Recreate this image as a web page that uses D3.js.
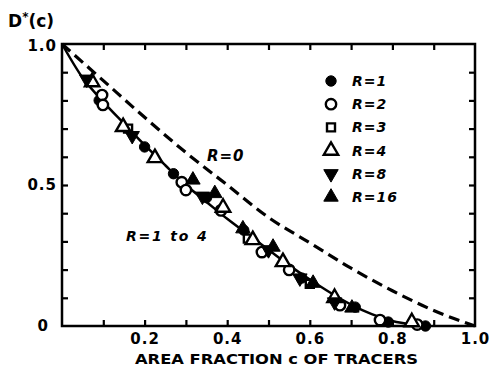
<!DOCTYPE html>
<html>
<head>
<meta charset="utf-8">
<script src="https://cdn.jsdelivr.net/npm/d3@7"></script>
<style>
body { margin: 0; background: #fff; }
text { font-family: "DejaVu Sans", sans-serif; font-weight: bold; fill: #000; }
</style>
</head>
<body>
<div id="chart"></div>
<script>
// curves
const fitC   = [0, 0.05, 0.1, 0.15, 0.2, 0.25, 0.3, 0.35, 0.4, 0.45, 0.5, 0.55, 0.6, 0.65, 0.7, 0.75, 0.8, 0.85, 0.88]
const fitD   = [1, 0.88, 0.795, 0.718, 0.642, 0.57, 0.5, 0.44, 0.38, 0.325, 0.27, 0.215, 0.165, 0.118, 0.076, 0.042, 0.018, 0.005, 0]
const r0C    = [0, 0.1, 0.2, 0.3, 0.4, 0.5, 0.6, 0.7, 0.8, 0.9, 1.0]
const r0D    = [1, 0.87, 0.74, 0.615, 0.5, 0.385, 0.295, 0.205, 0.125, 0.055, 0]

// measured points per series
const r1C  = [0.09, 0.2, 0.27, 0.35, 0.44, 0.58, 0.71, 0.79, 0.88]
const r1D  = [0.80, 0.635, 0.54, 0.455, 0.34, 0.17, 0.067, 0.014, 0.0]
const r2C  = [0.097, 0.099, 0.29, 0.30, 0.385, 0.484, 0.55, 0.673, 0.77, 0.86]
const r2D  = [0.819, 0.784, 0.51, 0.482, 0.41, 0.262, 0.199, 0.074, 0.021, 0.005]
const r3C  = [0.16, 0.45, 0.6]
const r3D  = [0.70, 0.31, 0.15]
const r4C  = [0.073, 0.148, 0.225, 0.39, 0.462, 0.535, 0.66, 0.847]
const r4D  = [0.865, 0.706, 0.596, 0.42, 0.305, 0.227, 0.10, 0.014]
const r8C  = [0.06, 0.17, 0.34, 0.5, 0.576, 0.66]
const r8D  = [0.875, 0.675, 0.46, 0.27, 0.17, 0.085]
const r16C = [0.317, 0.37, 0.438, 0.511, 0.608, 0.702]
const r16D = [0.518, 0.47, 0.345, 0.28, 0.152, 0.064]

const xTicks = [0.2, 0.4, 0.6, 0.8, 1.0]
const yTicks = [0, 0.5, 1.0]

const series = [
    {label: "R=1",  c: r1C,  d: r1D,  shape: d3.symbolCircle,   filled: true},
    {label: "R=2",  c: r2C,  d: r2D,  shape: d3.symbolCircle,   filled: false},
    {label: "R=3",  c: r3C,  d: r3D,  shape: d3.symbolSquare,   filled: false},
    {label: "R=4",  c: r4C,  d: r4D,  shape: d3.symbolTriangle, filled: false},
    {label: "R=8",  c: r8C,  d: r8D,  shape: d3.symbolTriangle, filled: true, down: true},
    {label: "R=16", c: r16C, d: r16D, shape: d3.symbolTriangle, filled: true}
]

const W = 494, H = 368
const x = d3.scaleLinear().domain([0, 1]).range([62, 475])
const y = d3.scaleLinear().domain([0, 1]).range([326, 44])

const svg = d3.select("#chart").append("svg")
    .attr("width", W)
    .attr("height", H)

// inward ticks on all four sides
const minor = d3.range(1, 10).map(i => i / 10)
const tickAxis = (axis, tr) => svg.append("g")
    .attr("transform", tr)
    .call(axis.tickValues(minor).tickSize(-6).tickFormat(""))
    .call(g => g.select(".domain").remove())
    .call(g => g.selectAll("line").attr("stroke-width", 2.2))
tickAxis(d3.axisBottom(x), "translate(0,326)")
tickAxis(d3.axisTop(x), "translate(0,44)")
tickAxis(d3.axisLeft(y), "translate(62,0)")
tickAxis(d3.axisRight(y), "translate(475,0)")

svg.append("rect")
    .attr("x", x(0)).attr("y", y(1))
    .attr("width", x(1) - x(0)).attr("height", y(0) - y(1))
    .attr("fill", "none").attr("stroke", "#000").attr("stroke-width", 2.5)

// tick labels
svg.append("g")
    .attr("transform", "translate(0,326)")
    .call(d3.axisBottom(x).tickValues(xTicks).tickSize(0).tickPadding(7).tickFormat(d3.format(".1f")))
    .call(g => g.select(".domain").remove())
    .selectAll("text").style("font-size", "15px").style("letter-spacing", "1px")

svg.append("g")
    .attr("transform", "translate(62,0)")
    .call(d3.axisLeft(y).tickValues(yTicks).tickSize(0).tickPadding(5)
        .tickFormat(d => d === 0 ? "0" : d3.format(".1f")(d)))
    .call(g => g.select(".domain").remove())
    .selectAll("text").style("font-size", "15px").style("letter-spacing", "1px")
    .attr("dx", d => d === 0 ? -8 : 0)
    .attr("dy", d => d === 1 ? "0.45em" : "0.32em")

svg.append("text")
    .attr("x", 135).attr("y", 364)
    .attr("textLength", 283).attr("lengthAdjust", "spacingAndGlyphs")
    .style("font-size", "14px")
    .text("AREA FRACTION c OF TRACERS")

const dl = svg.append("text").attr("x", 8).attr("y", 27).style("font-size", "17px")
dl.append("tspan").text("D")
dl.append("tspan").attr("dy", -6).style("font-size", "12px").text("*")
dl.append("tspan").attr("dy", 6).text("(c)")

// curves
const line = d3.line().x(d => x(d[0])).y(d => y(d[1])).curve(d3.curveMonotoneX)

svg.append("path")
    .attr("d", line(d3.zip(r0C, r0D)))
    .attr("fill", "none").attr("stroke", "#000")
    .attr("stroke-width", 3.2).attr("stroke-dasharray", "11,6")

svg.append("path")
    .attr("d", line(d3.zip(fitC, fitD)))
    .attr("fill", "none").attr("stroke", "#000").attr("stroke-width", 2.5)

// markers
const symSize = s => s.shape === d3.symbolCircle ? 85 : s.shape === d3.symbolSquare ? 64 : 90
const drawSym = (g, s) => g
    .attr("d", d3.symbol(s.shape, symSize(s)))
    .attr("fill", s.filled ? "#000" : "#fff")
    .attr("stroke", "#000")
    .attr("stroke-width", s.filled ? 1 : 2.4)

series.forEach(s => {
    svg.append("g").selectAll("path")
        .data(d3.zip(s.c, s.d))
        .enter()
        .append("path")
        .attr("transform", d => "translate(" + x(d[0]) + "," + y(d[1]) + ")" + (s.down ? " rotate(180)" : ""))
        .call(g => drawSym(g, s))
})

// legend
const leg = svg.append("g")
series.forEach((s, i) => {
    const yy = 81 + i * 23.2
    leg.append("path")
        .attr("transform", "translate(331," + yy + ")" + (s.down ? " rotate(180)" : ""))
        .call(g => drawSym(g, s))
    leg.append("text")
        .attr("x", 352).attr("y", yy + 5)
        .style("font-size", "14px").style("font-style", "italic").style("letter-spacing", "1px")
        .text(s.label)
})

// curve labels
svg.append("text")
    .attr("x", 207).attr("y", 161)
    .style("font-size", "15px").style("font-style", "italic").style("letter-spacing", "1px")
    .text("R=0")
svg.append("text")
    .attr("x", 126).attr("y", 241)
    .style("font-size", "14px").style("font-style", "italic").style("letter-spacing", "1.8px")
    .text("R=1 to 4")
</script>
</body>
</html>
